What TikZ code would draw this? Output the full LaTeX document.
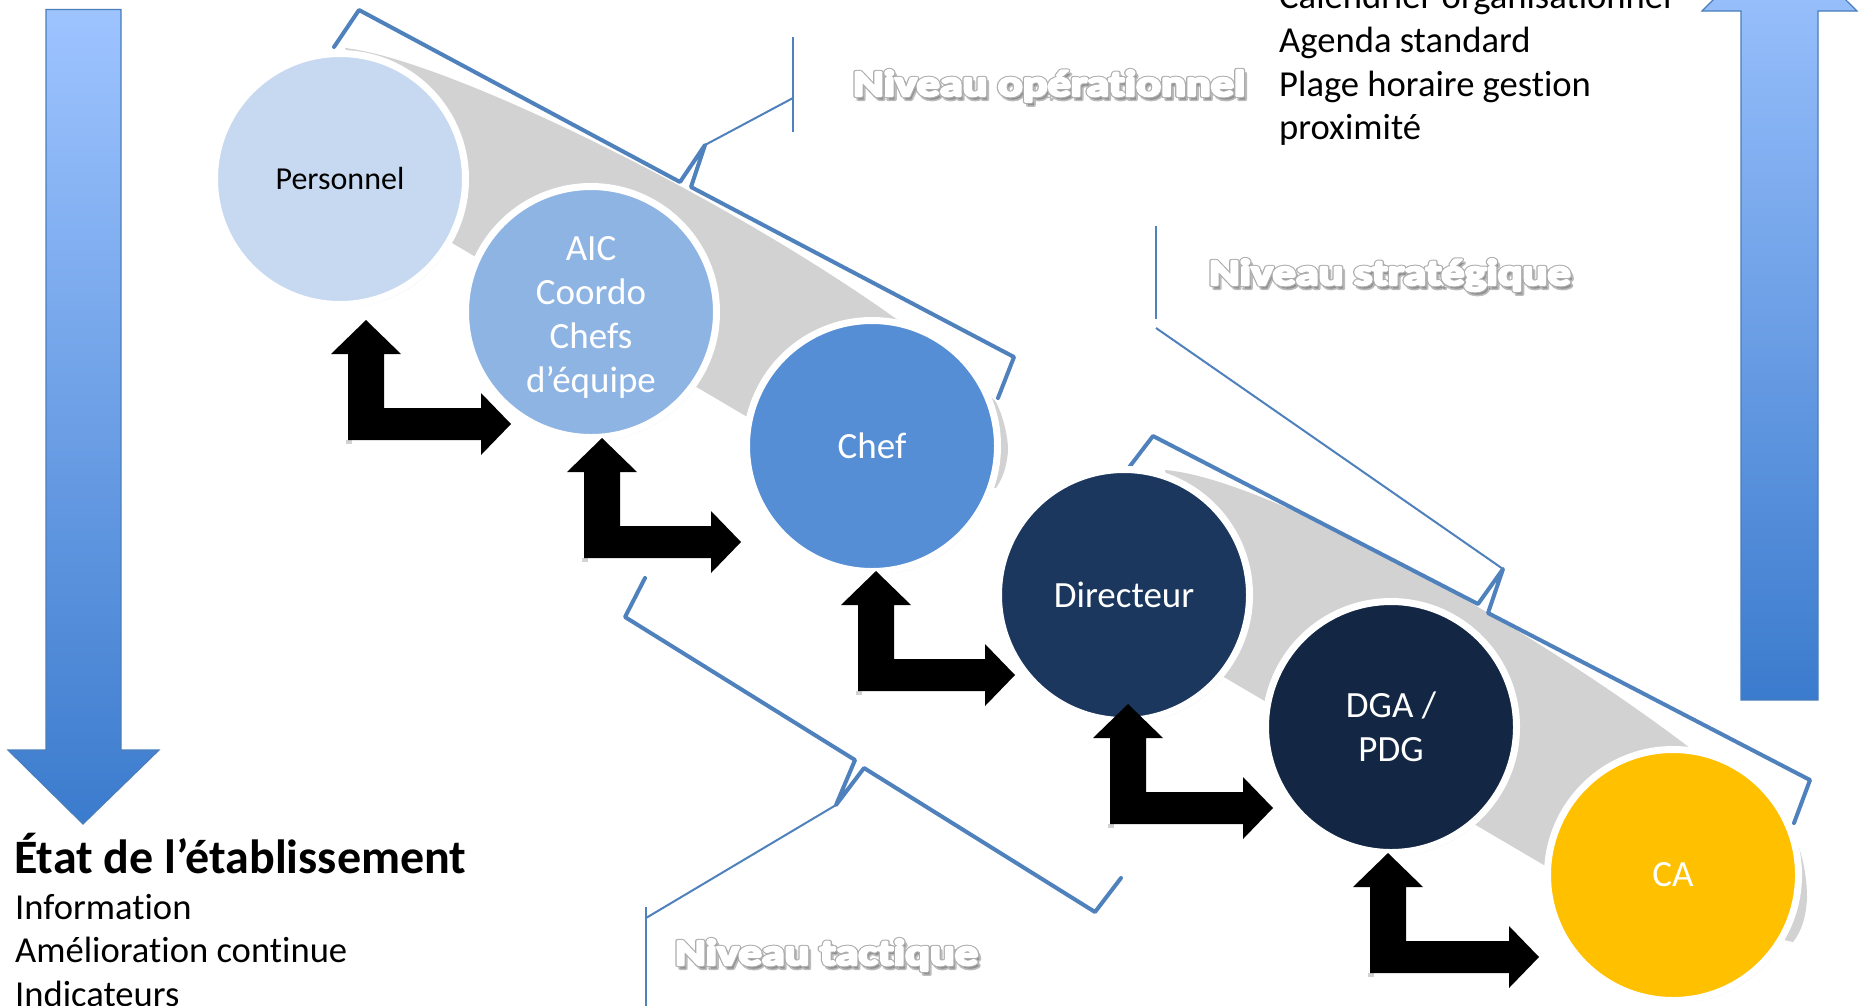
\documentclass[tikz,border=0pt]{standalone}
\usepackage{fontspec}
\setmainfont{Carlito}[Ligatures=NoCommon]
\usepackage{graphicx}
\usetikzlibrary{shadows}
\definecolor{brace}{HTML}{4F81BD}
\definecolor{cPers}{HTML}{C6D9F1}
\definecolor{cAIC}{HTML}{8EB4E3}
\definecolor{cChef}{HTML}{558ED5}
\definecolor{cDir}{HTML}{1B375E}
\definecolor{cDGA}{HTML}{132744}
\definecolor{cCA}{HTML}{FFC000}
\definecolor{band}{RGB}{210,210,210}
\definecolor{arrTop}{HTML}{9EC4FF}
\definecolor{arrBot}{HTML}{3B7BCD}
\definecolor{arrLine}{HTML}{4A7EBB}
\tikzset{
  circ/.style={circle, draw=white, line width=7pt, minimum size=251pt, inner sep=0pt,
    text=white, align=center, font=\fontsize{37}{44}\selectfont,
    drop shadow={opacity=0.22, shadow xshift=2pt, shadow yshift=-3pt}},
  circtext/.style={inner sep=0pt, text=white, align=center, font=\fontsize{37}{44}\selectfont},
  bracepath/.style={draw=brace, line width=4pt, line join=round, line cap=round},
  callout/.style={draw=brace, line width=2pt},
  bigarrow/.style={top color=arrTop, bottom color=arrBot, draw=arrLine, line width=1.2pt},
  bentarr/.style={fill=black},
  txt/.style={anchor=base west, inner sep=0pt, font=\fontsize{36.6}{44}\selectfont},
  niv/.style={anchor=base west, inner sep=0pt, font=\fontsize{37}{44}\selectfont\bfseries},
  nivshadow/.style={niv, text=black!75, opacity=0.35},
  nivrim/.style={niv, text=white},
  nivtext/.style={niv, text=white}
}
% text render mode 2: fill, then stroke with the given grey and width
\newcommand\strokedtext[3]{\special{pdf:literal direct q 2 Tr #2 w 1 J 1 j #1 RG}#3\special{pdf:literal direct Q}}
\newcommand\bentarrow[3]{%
  \fill[black!35, opacity=0.5] ({#1-20},{#2+120}) rectangle ({#1-14},{#2+124});
  \fill[bentarr] (#1,#2) -- ({#1+35},{#2+34}) -- ({#1+18},{#2+34}) -- ({#1+18},{#2+88})
    -- ({#3-30},{#2+88}) -- ({#3-30},{#2+73}) -- (#3,{#2+104}) -- ({#3-30},{#2+135})
    -- ({#3-30},{#2+120}) -- ({#1-18},{#2+120}) -- ({#1-18},{#2+34}) -- ({#1-35},{#2+34}) -- cycle;}
\newcommand\niveau[4]{%
  \node[nivshadow, xshift=2.5pt, yshift=-3.5pt] at (#2,#3) {\scalebox{1.25}[1]{\strokedtext{0.25 0.25 0.25}{3.2}{#4}}};
  \node[nivrim] at (#2,#3) {\scalebox{1.25}[1]{\strokedtext{0.68 0.68 0.68}{4.2}{#4}}};
  \node[nivtext] (#1) at (#2,#3) {\scalebox{1.25}[1]{\strokedtext{1 1 1}{2.2}{#4}}};}
\begin{document}
\begin{tikzpicture}[x=1pt,y=-1pt]
\useasboundingbox (0,0) rectangle (1860,1005);
\clip (0,0) rectangle (1860,1005);
\fill[white] (0,0) rectangle (1860,1005);

% big gradient arrows
\shade[bigarrow] (46,9.5) -- (121,9.5) -- (121,750) -- (159,750) -- (83,824) -- (8,750) -- (46,750) -- cycle;
\shade[bigarrow] (1741,700) -- (1818,700) -- (1818,11) -- (1857,11) -- (1779,-66) -- (1702,11) -- (1741,11) -- cycle;

% grey bands
\fill[band] (345,48) .. controls (470,62) and (870,270) .. (996,402)
  .. controls (1003,416) and (1008,436) .. (1008,450)
  .. controls (1007,466) and (1003,478) .. (996,488) -- (800,448) -- (430,230) -- cycle;
\fill[band] (1165,470) .. controls (1290,480) and (1660,700) .. (1795,838)
  .. controls (1803,855) and (1807,878) .. (1807,898)
  .. controls (1806,918) and (1801,932) .. (1793,942) -- (1600,898) -- (1200,663) -- cycle;

% braces
\coordinate (tipOp) at (705,145);
\coordinate (tipStr) at (1503,569);
\coordinate (tipTac) at (836,805);
\draw[bracepath] (334,47) -- (359,10) -- (680,182) -- (tipOp) -- (691,187) -- (1014,357) -- (998,398);
\draw[bracepath] (1127,470) -- (1153,436) -- (1478,604) -- (tipStr) -- (1488,613) -- (1810,780) -- (1794,823);
\draw[bracepath] (645,578) -- (625,617) -- (855,760) -- (tipTac) -- (864,768) -- (1095,912) -- (1121,878);

% circles
\node[circ, fill=cPers, text=black, font=\fontsize{32}{38}\selectfont] (pers) at (340,179) {Personnel};
\node[circ, fill=cAIC] (aic) at (591,312) {};
\node[circtext] (aictxt) at (591,317.5) {AIC\\Coordo\\Chefs\\d’équipe};
\node[circ, fill=cChef] (chef) at (872,446) {Chef};
\node[circ, fill=cDir] (dir) at (1124,595) {Directeur};
\node[circ, fill=cDGA] (dga) at (1391,727) {DGA /\\PDG};
\node[circ, fill=cCA] (ca) at (1673,875) {CA};

% bent black arrows
\bentarrow{366}{320}{511}
\bentarrow{602}{438}{741}
\bentarrow{876}{571}{1015}
\bentarrow{1128}{704}{1273}
\bentarrow{1388}{853}{1539}

% callouts
\coordinate (vOpT) at (793,37);  \coordinate (vOpB) at (793,132); \coordinate (vOpJ) at (793,98);
\coordinate (vStT) at (1156,226); \coordinate (vStB) at (1156,319); \coordinate (vStJ) at (1156,328);
\coordinate (vTaT) at (646,907); \coordinate (vTaB) at (646,1010); \coordinate (vTaJ) at (646,918);
\draw[callout] (vOpT) -- (vOpB);
\draw[callout] (tipOp) -- (vOpJ);
\draw[callout] (vStT) -- (vStB);
\draw[callout] (tipStr) -- (vStJ);
\draw[callout] (vTaT) -- (vTaB);
\draw[callout] (tipTac) -- (vTaJ);

% level labels
\niveau{nOp}{853}{96}{Niveau opérationnel}
\niveau{nSt}{1209}{285}{Niveau stratégique}
\niveau{nTa}{675}{965}{Niveau tactique}

% right text
\node[txt] (cal) at (1279,8) {Calendrier organisationnel};
\node[txt] (agenda) at (1279,52) {Agenda standard};
\node[txt] (plage) at (1279,96) {Plage horaire gestion};
\node[txt] (prox) at (1279,139.5) {proximité};

% left text
\node[txt, font=\fontsize{48}{56}\selectfont\bfseries] (etat) at (14,873) {État de l’établissement};
\node[txt] (info) at (15,919) {Information};
\node[txt] (amel) at (15,962.5) {Amélioration continue};
\node[txt] (indic) at (15,1006) {Indicateurs};
\end{tikzpicture}
\end{document}
